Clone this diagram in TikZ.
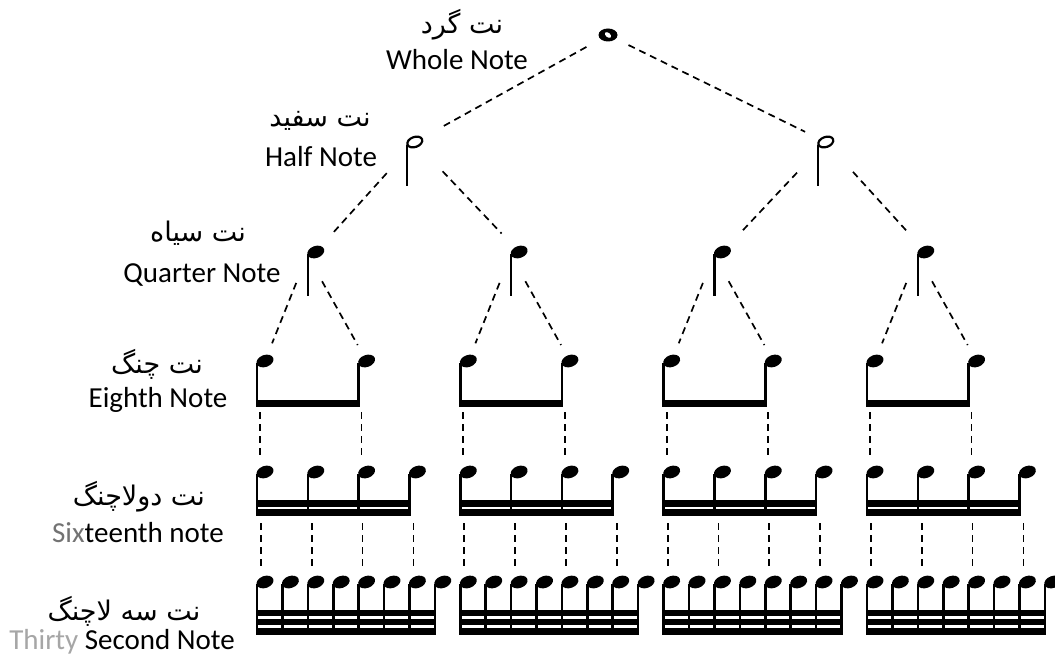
\documentclass[tikz,border=0pt]{standalone}
\usepackage{fontspec}
\setmainfont{Carlito}
\newfontfamily\arabicfont[Script=Arabic]{DejaVu Sans}
\TeXXeTstate=1
\usetikzlibrary{shapes.geometric}
\begin{document}
\begin{tikzpicture}[x=1pt,y=-1pt,
  conn/.style={dash pattern=on 7pt off 5pt, line width=1.7pt},
  qhead/.style={ellipse, fill=black, minimum width=17.5pt, minimum height=12pt, inner sep=0pt, rotate=20},
  hhead/.style={ellipse, draw=black, fill=white, line width=2.2pt, minimum width=15.5pt, minimum height=10pt, inner sep=0pt, rotate=20},
  stemline/.style={line width=2.6pt},
  en/.style={font=\fontsize{29}{32}\selectfont, anchor=base, inner sep=0pt},
  fa/.style={font=\arabicfont\fontsize{27}{31}\selectfont, anchor=base, inner sep=0pt}]
\useasboundingbox (0,0) rectangle (1055,658);
\fill[white] (0,0) rectangle (1055,658);
\clip (0,0) rectangle (1055,658);

% labels
\node[fa] (faW) at (462,34) {\beginR نت گرد\endR};
\node[en] (enW) at (457,70) {Whole Note};
\node[fa] (faH) at (320,127) {\beginR نت سفید\endR};
\node[en] (enH) at (321,167) {Half Note};
\node[fa] (faQ) at (198,241) {\beginR نت سیاه\endR};
\node[en] (enQ) at (202,282) {Quarter Note};
\node[fa] (faE) at (157,373) {\beginR نت چنگ\endR};
\node[en] (enE) at (158,407) {Eighth Note};
\node[fa] (faS) at (139,505) {\beginR نت دولاچنگ\endR};
\node[en] (enS) at (138,542) {{\color{black!55}Six}teenth note};
\node[fa] (faT) at (124,620) {\beginR نت سه لاچنگ\endR};
\node[en] (enT) at (122,649) {{\color{black!35}Thirty} Second Note};

% whole note
\node[ellipse, fill=black, minimum width=19pt, minimum height=13pt, inner sep=0pt] (W) at (608,35) {};
\fill[white, rotate around={50:(W)}] (W) ellipse (2.2 and 3.6);

% half notes
\foreach \i/\sx in {1/407, 2/818} {
  \draw[stemline] (\sx,145) -- (\sx,186);
  \node[hhead] (H\i) at (\sx+7.8,142) {};
}

\foreach \g in {0,1,2,3} {
  \pgfmathsetmacro\gx{257+203.33*\g}
  \pgfmathtruncatemacro\qi{\g+1}
  % quarter
  \pgfmathsetmacro\qx{\gx+50.8}
  \draw[stemline] (\qx,254) -- (\qx,296);
  \node[qhead] (Q\qi) at (\qx+8,252) {};
  % eighths
  \foreach \k in {0,1} {
    \pgfmathtruncatemacro\ei{2*\g+\k+1}
    \pgfmathsetmacro\sx{\gx+101.6*\k}
    \draw[stemline] (\sx,363) -- (\sx,406);
    \node[qhead] (E\ei) at (\sx+8,361) {};
    \coordinate (Eb\ei) at (\sx,406);
  }
  \fill (\gx-1.3,400) rectangle (\gx+101.6+1.3,406.5);
  % sixteenths
  \foreach \k in {0,...,3} {
    \pgfmathtruncatemacro\si{4*\g+\k+1}
    \pgfmathsetmacro\sx{\gx+50.8*\k}
    \draw[stemline] (\sx,474) -- (\sx,515);
    \node[qhead] (S\si) at (\sx+8,472) {};
    \coordinate (Sb\si) at (\sx,515);
  }
  \fill (\gx-1.3,500) rectangle (\gx+152.4+1.3,506.5);
  \fill (\gx-1.3,509) rectangle (\gx+152.4+1.3,515.5);
  % thirty-seconds
  \foreach \k in {0,...,7} {
    \pgfmathtruncatemacro\ti{8*\g+\k+1}
    \pgfmathsetmacro\sx{\gx+25.4*\k}
    \draw[stemline] (\sx,584) -- (\sx,634);
    \node[qhead] (T\ti) at (\sx+8,582) {};
  }
  \fill (\gx-1.3,610) rectangle (\gx+177.8+1.3,616);
  \fill (\gx-1.3,619) rectangle (\gx+177.8+1.3,625);
  \fill (\gx-1.3,628) rectangle (\gx+177.8+1.3,634.5);
}

% connectors: whole -> half
\draw[conn, shorten <=16pt, shorten >=22pt] (W) -- (H1);
\draw[conn, shorten <=14pt, shorten >=16pt] (W) -- (H2);
% half -> quarter
\foreach \h/\a/\b in {1/1/2, 2/3/4} {
  \draw[conn, shorten <=34pt, shorten >=19pt] (H\h) -- (Q\a);
  \draw[conn, shorten <=34pt, shorten >=19pt] (H\h) -- (Q\b);
}
% quarter -> eighth
\foreach \q in {1,...,4} {
  \pgfmathtruncatemacro\ea{2*\q-1}
  \pgfmathtruncatemacro\eb{2*\q}
  \draw[conn, shorten <=30pt, shorten >=12pt] (Q\q.west) -- (E\ea);
  \draw[conn, shorten <=30pt, shorten >=12pt] (Q\q.west) -- (E\eb);
}
% eighth -> sixteenth
\foreach \e in {1,...,8} {
  \pgfmathtruncatemacro\s{2*\e-1}
  \draw[conn, shorten <=6pt, shorten >=17pt] ([xshift=3pt]Eb\e) -- ([xshift=3pt]Eb\e |- S\s.west);
}
% sixteenth -> thirty-second
\foreach \s in {1,...,16} {
  \pgfmathtruncatemacro\t{2*\s-1}
  \draw[conn, shorten <=8pt, shorten >=16pt] ([xshift=4pt]Sb\s) -- ([xshift=4pt]Sb\s |- T\t.west);
}
\end{tikzpicture}
\end{document}
